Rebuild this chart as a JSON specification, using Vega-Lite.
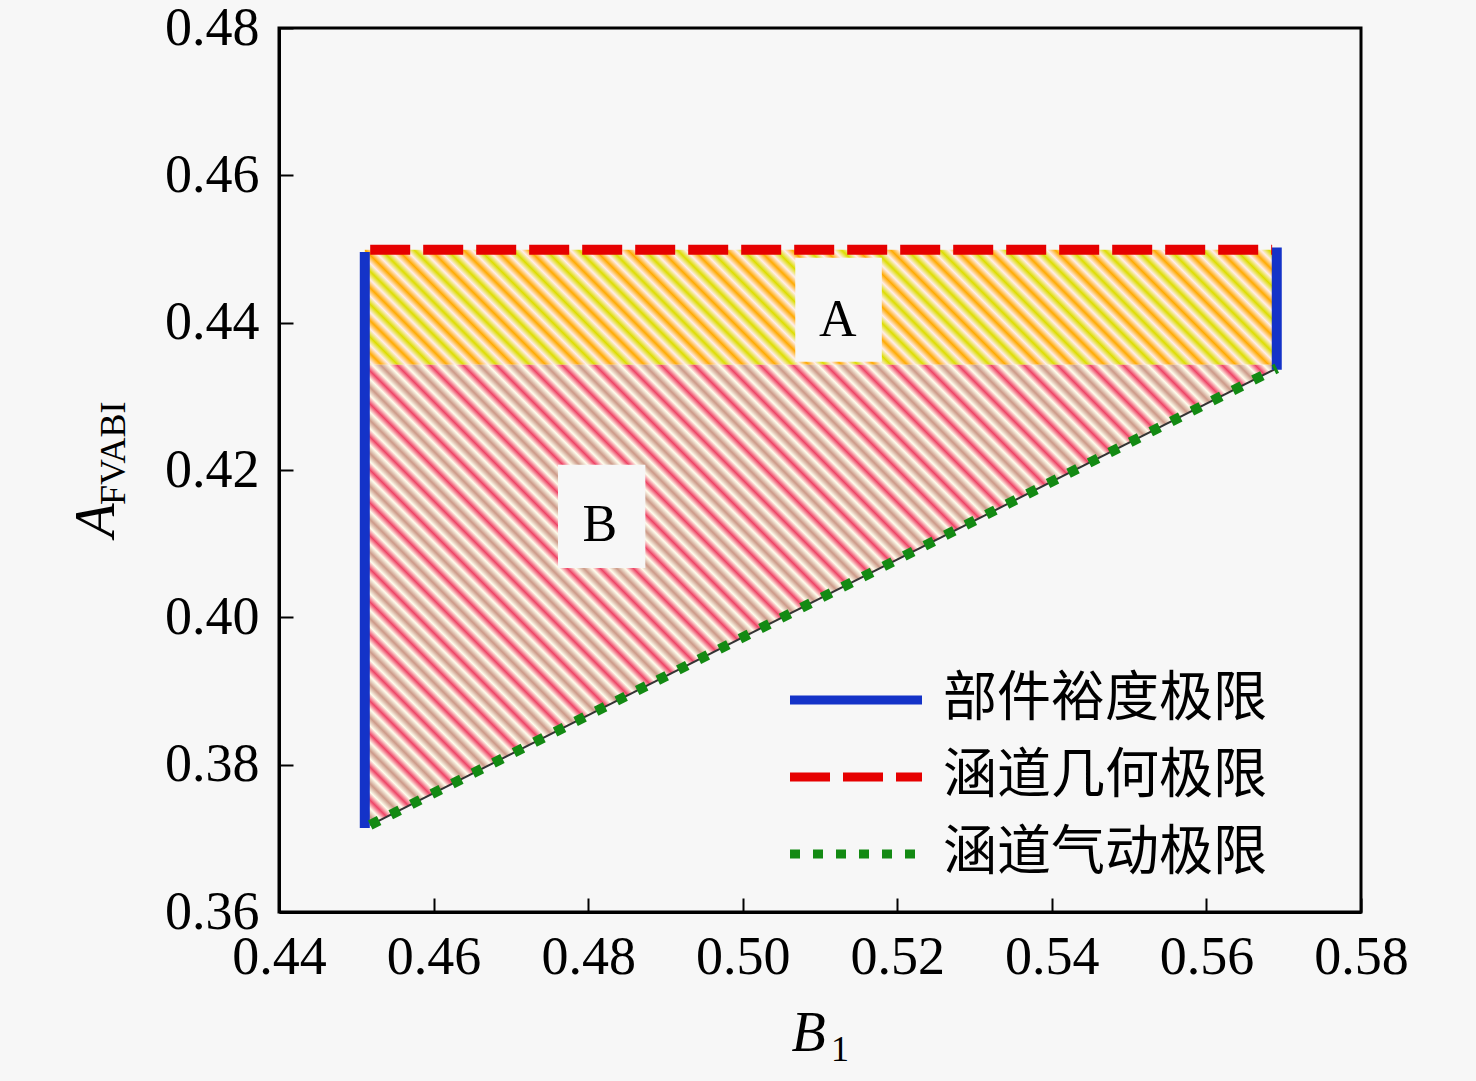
{
  "$schema": "https://vega.github.io/schema/vega-lite/v6.json",
  "description": "Feasible region of A_FVABI vs B1 bounded by component margin, duct geometry and duct aerodynamic limits.",
  "background": "#f7f7f7",
  "autosize": "none",
  "padding": {"left": 279, "top": 28, "right": 115, "bottom": 169},
  "width": 1082,
  "height": 884,
  "config": {
    "view": {"stroke": "#000000", "strokeWidth": 3},
    "axis": {
      "grid": false,
      "domainColor": "#000000",
      "domainWidth": 3,
      "tickColor": "#000000",
      "tickWidth": 2,
      "tickSize": -14,
      "labelFont": "Liberation Serif",
      "labelFontSize": 54,
      "labelColor": "#000000",
      "labelFlush": false,
      "labelOverlap": false,
      "titleFont": "Liberation Serif",
      "titleFontSize": 56,
      "titleFontStyle": "italic",
      "titleFontWeight": "normal",
      "titleColor": "#000000"
    }
  },
  "encoding": {
    "x": {
      "field": "x",
      "type": "quantitative",
      "scale": {"domain": [0.44, 0.58], "nice": false, "zero": false},
      "axis": {
        "title": "B",
        "values": [0.44, 0.46, 0.48, 0.5, 0.52, 0.54, 0.56, 0.58],
        "format": ".2f",
        "labelPadding": 32,
        "titleX": 529,
        "titleY": 138,
        "titleAlign": "center",
        "titleBaseline": "alphabetic"
      }
    },
    "y": {
      "field": "y",
      "type": "quantitative",
      "scale": {"domain": [0.36, 0.48], "nice": false, "zero": false},
      "axis": {
        "title": "A",
        "values": [0.36, 0.38, 0.4, 0.42, 0.44, 0.46, 0.48],
        "format": ".2f",
        "labelPadding": 34,
        "titleAngle": 270,
        "titleX": -166,
        "titleY": 509,
        "titleAlign": "left",
        "titleBaseline": "alphabetic"
      }
    }
  },
  "layer": [
    {
      "data": {"values": [{"region": "A", "x": 0.4511, "x2": 0.5691, "y": 0.4343, "y2": 0.4499}]},
      "mark": {
        "type": "rect",
        "fill": {
          "gradient": "linear",
          "x1": 0, "y1": 1, "x2": 1.1085, "y2": 0.8602,
          "stops": [
            {"offset": 0, "color": "#dd0"}, {"offset": 0.008, "color": "#fee"}, {"offset": 0.016, "color": "#fa0"}, {"offset": 0.024, "color": "#fee"},
            {"offset": 0.032, "color": "#dd0"}, {"offset": 0.04, "color": "#fee"}, {"offset": 0.048, "color": "#fa0"}, {"offset": 0.056, "color": "#fee"},
            {"offset": 0.064, "color": "#dd0"}, {"offset": 0.072, "color": "#fee"}, {"offset": 0.08, "color": "#fa0"}, {"offset": 0.088, "color": "#fee"},
            {"offset": 0.096, "color": "#dd0"}, {"offset": 0.104, "color": "#fee"}, {"offset": 0.112, "color": "#fa0"}, {"offset": 0.12, "color": "#fee"},
            {"offset": 0.128, "color": "#dd0"}, {"offset": 0.136, "color": "#fee"}, {"offset": 0.144, "color": "#fa0"}, {"offset": 0.152, "color": "#fee"},
            {"offset": 0.16, "color": "#dd0"}, {"offset": 0.168, "color": "#fee"}, {"offset": 0.176, "color": "#fa0"}, {"offset": 0.184, "color": "#fee"},
            {"offset": 0.192, "color": "#dd0"}, {"offset": 0.2, "color": "#fee"}, {"offset": 0.208, "color": "#fa0"}, {"offset": 0.216, "color": "#fee"},
            {"offset": 0.224, "color": "#dd0"}, {"offset": 0.232, "color": "#fee"}, {"offset": 0.24, "color": "#fa0"}, {"offset": 0.248, "color": "#fee"},
            {"offset": 0.256, "color": "#dd0"}, {"offset": 0.264, "color": "#fee"}, {"offset": 0.272, "color": "#fa0"}, {"offset": 0.28, "color": "#fee"},
            {"offset": 0.288, "color": "#dd0"}, {"offset": 0.296, "color": "#fee"}, {"offset": 0.304, "color": "#fa0"}, {"offset": 0.312, "color": "#fee"},
            {"offset": 0.32, "color": "#dd0"}, {"offset": 0.328, "color": "#fee"}, {"offset": 0.336, "color": "#fa0"}, {"offset": 0.344, "color": "#fee"},
            {"offset": 0.352, "color": "#dd0"}, {"offset": 0.36, "color": "#fee"}, {"offset": 0.368, "color": "#fa0"}, {"offset": 0.376, "color": "#fee"},
            {"offset": 0.384, "color": "#dd0"}, {"offset": 0.392, "color": "#fee"}, {"offset": 0.4, "color": "#fa0"}, {"offset": 0.408, "color": "#fee"},
            {"offset": 0.416, "color": "#dd0"}, {"offset": 0.424, "color": "#fee"}, {"offset": 0.432, "color": "#fa0"}, {"offset": 0.44, "color": "#fee"},
            {"offset": 0.448, "color": "#dd0"}, {"offset": 0.456, "color": "#fee"}, {"offset": 0.464, "color": "#fa0"}, {"offset": 0.472, "color": "#fee"},
            {"offset": 0.48, "color": "#dd0"}, {"offset": 0.488, "color": "#fee"}, {"offset": 0.496, "color": "#fa0"}, {"offset": 0.504, "color": "#fee"},
            {"offset": 0.512, "color": "#dd0"}, {"offset": 0.52, "color": "#fee"}, {"offset": 0.528, "color": "#fa0"}, {"offset": 0.536, "color": "#fee"},
            {"offset": 0.544, "color": "#dd0"}, {"offset": 0.552, "color": "#fee"}, {"offset": 0.56, "color": "#fa0"}, {"offset": 0.568, "color": "#fee"},
            {"offset": 0.576, "color": "#dd0"}, {"offset": 0.584, "color": "#fee"}, {"offset": 0.592, "color": "#fa0"}, {"offset": 0.6, "color": "#fee"},
            {"offset": 0.608, "color": "#dd0"}, {"offset": 0.616, "color": "#fee"}, {"offset": 0.624, "color": "#fa0"}, {"offset": 0.632, "color": "#fee"},
            {"offset": 0.64, "color": "#dd0"}, {"offset": 0.648, "color": "#fee"}, {"offset": 0.656, "color": "#fa0"}, {"offset": 0.664, "color": "#fee"},
            {"offset": 0.672, "color": "#dd0"}, {"offset": 0.68, "color": "#fee"}, {"offset": 0.688, "color": "#fa0"}, {"offset": 0.696, "color": "#fee"},
            {"offset": 0.704, "color": "#dd0"}, {"offset": 0.712, "color": "#fee"}, {"offset": 0.72, "color": "#fa0"}, {"offset": 0.728, "color": "#fee"},
            {"offset": 0.736, "color": "#dd0"}, {"offset": 0.744, "color": "#fee"}, {"offset": 0.752, "color": "#fa0"}, {"offset": 0.76, "color": "#fee"},
            {"offset": 0.768, "color": "#dd0"}, {"offset": 0.776, "color": "#fee"}, {"offset": 0.784, "color": "#fa0"}, {"offset": 0.792, "color": "#fee"},
            {"offset": 0.8, "color": "#dd0"}, {"offset": 0.808, "color": "#fee"}, {"offset": 0.816, "color": "#fa0"}, {"offset": 0.824, "color": "#fee"},
            {"offset": 0.832, "color": "#dd0"}, {"offset": 0.84, "color": "#fee"}, {"offset": 0.848, "color": "#fa0"}, {"offset": 0.856, "color": "#fee"},
            {"offset": 0.864, "color": "#dd0"}, {"offset": 0.872, "color": "#fee"}, {"offset": 0.88, "color": "#fa0"}, {"offset": 0.888, "color": "#fee"},
            {"offset": 0.896, "color": "#dd0"}, {"offset": 0.904, "color": "#fee"}, {"offset": 0.912, "color": "#fa0"}, {"offset": 0.92, "color": "#fee"},
            {"offset": 0.928, "color": "#dd0"}, {"offset": 0.936, "color": "#fee"}, {"offset": 0.944, "color": "#fa0"}, {"offset": 0.952, "color": "#fee"},
            {"offset": 0.96, "color": "#dd0"}, {"offset": 0.968, "color": "#fee"}, {"offset": 0.976, "color": "#fa0"}, {"offset": 0.984, "color": "#fee"},
            {"offset": 0.992, "color": "#dd0"}, {"offset": 1, "color": "#fee"}
          ]
        }
      },
      "encoding": {
        "x2": {"field": "x2"},
        "y2": {"field": "y2"}
      }
    },
    {
      "data": {"values": [
        {"region": "B", "x": 0.4511, "y": 0.3714, "y2": 0.4343},
        {"region": "B", "x": 0.5691, "y": 0.4338, "y2": 0.4343}
      ]},
      "mark": {
        "type": "area",
        "color": {
          "gradient": "linear",
          "x1": 0, "y1": 1, "x2": 1.1987, "y2": 0.3914,
          "stops": [
            {"offset": 0, "color": "#e46"}, {"offset": 0.006, "color": "#ffe"}, {"offset": 0.012, "color": "#c98"}, {"offset": 0.018, "color": "#ffe"},
            {"offset": 0.024, "color": "#e46"}, {"offset": 0.03, "color": "#ffe"}, {"offset": 0.036, "color": "#c98"}, {"offset": 0.042, "color": "#ffe"},
            {"offset": 0.048, "color": "#e46"}, {"offset": 0.054, "color": "#ffe"}, {"offset": 0.06, "color": "#c98"}, {"offset": 0.066, "color": "#ffe"},
            {"offset": 0.072, "color": "#e46"}, {"offset": 0.078, "color": "#ffe"}, {"offset": 0.084, "color": "#c98"}, {"offset": 0.09, "color": "#ffe"},
            {"offset": 0.096, "color": "#e46"}, {"offset": 0.102, "color": "#ffe"}, {"offset": 0.108, "color": "#c98"}, {"offset": 0.114, "color": "#ffe"},
            {"offset": 0.12, "color": "#e46"}, {"offset": 0.126, "color": "#ffe"}, {"offset": 0.132, "color": "#c98"}, {"offset": 0.138, "color": "#ffe"},
            {"offset": 0.144, "color": "#e46"}, {"offset": 0.15, "color": "#ffe"}, {"offset": 0.156, "color": "#c98"}, {"offset": 0.162, "color": "#ffe"},
            {"offset": 0.168, "color": "#e46"}, {"offset": 0.174, "color": "#ffe"}, {"offset": 0.18, "color": "#c98"}, {"offset": 0.186, "color": "#ffe"},
            {"offset": 0.192, "color": "#e46"}, {"offset": 0.198, "color": "#ffe"}, {"offset": 0.204, "color": "#c98"}, {"offset": 0.21, "color": "#ffe"},
            {"offset": 0.216, "color": "#e46"}, {"offset": 0.222, "color": "#ffe"}, {"offset": 0.228, "color": "#c98"}, {"offset": 0.234, "color": "#ffe"},
            {"offset": 0.24, "color": "#e46"}, {"offset": 0.246, "color": "#ffe"}, {"offset": 0.252, "color": "#c98"}, {"offset": 0.258, "color": "#ffe"},
            {"offset": 0.264, "color": "#e46"}, {"offset": 0.27, "color": "#ffe"}, {"offset": 0.276, "color": "#c98"}, {"offset": 0.282, "color": "#ffe"},
            {"offset": 0.288, "color": "#e46"}, {"offset": 0.294, "color": "#ffe"}, {"offset": 0.3, "color": "#c98"}, {"offset": 0.306, "color": "#ffe"},
            {"offset": 0.312, "color": "#e46"}, {"offset": 0.318, "color": "#ffe"}, {"offset": 0.324, "color": "#c98"}, {"offset": 0.33, "color": "#ffe"},
            {"offset": 0.336, "color": "#e46"}, {"offset": 0.342, "color": "#ffe"}, {"offset": 0.348, "color": "#c98"}, {"offset": 0.354, "color": "#ffe"},
            {"offset": 0.36, "color": "#e46"}, {"offset": 0.366, "color": "#ffe"}, {"offset": 0.372, "color": "#c98"}, {"offset": 0.378, "color": "#ffe"},
            {"offset": 0.384, "color": "#e46"}, {"offset": 0.39, "color": "#ffe"}, {"offset": 0.396, "color": "#c98"}, {"offset": 0.402, "color": "#ffe"},
            {"offset": 0.408, "color": "#e46"}, {"offset": 0.414, "color": "#ffe"}, {"offset": 0.42, "color": "#c98"}, {"offset": 0.426, "color": "#ffe"},
            {"offset": 0.432, "color": "#e46"}, {"offset": 0.438, "color": "#ffe"}, {"offset": 0.444, "color": "#c98"}, {"offset": 0.45, "color": "#ffe"},
            {"offset": 0.456, "color": "#e46"}, {"offset": 0.462, "color": "#ffe"}, {"offset": 0.468, "color": "#c98"}, {"offset": 0.474, "color": "#ffe"},
            {"offset": 0.48, "color": "#e46"}, {"offset": 0.486, "color": "#ffe"}, {"offset": 0.492, "color": "#c98"}, {"offset": 0.498, "color": "#ffe"},
            {"offset": 0.504, "color": "#e46"}, {"offset": 0.51, "color": "#ffe"}, {"offset": 0.516, "color": "#c98"}, {"offset": 0.522, "color": "#ffe"},
            {"offset": 0.528, "color": "#e46"}, {"offset": 0.534, "color": "#ffe"}, {"offset": 0.54, "color": "#c98"}, {"offset": 0.546, "color": "#ffe"},
            {"offset": 0.552, "color": "#e46"}, {"offset": 0.558, "color": "#ffe"}, {"offset": 0.564, "color": "#c98"}, {"offset": 0.57, "color": "#ffe"},
            {"offset": 0.576, "color": "#e46"}, {"offset": 0.582, "color": "#ffe"}, {"offset": 0.588, "color": "#c98"}, {"offset": 0.594, "color": "#ffe"},
            {"offset": 0.6, "color": "#e46"}, {"offset": 0.606, "color": "#ffe"}, {"offset": 0.612, "color": "#c98"}, {"offset": 0.618, "color": "#ffe"},
            {"offset": 0.624, "color": "#e46"}, {"offset": 0.63, "color": "#ffe"}, {"offset": 0.636, "color": "#c98"}, {"offset": 0.642, "color": "#ffe"},
            {"offset": 0.648, "color": "#e46"}, {"offset": 0.654, "color": "#ffe"}, {"offset": 0.66, "color": "#c98"}, {"offset": 0.666, "color": "#ffe"},
            {"offset": 0.672, "color": "#e46"}, {"offset": 0.678, "color": "#ffe"}, {"offset": 0.684, "color": "#c98"}, {"offset": 0.69, "color": "#ffe"},
            {"offset": 0.696, "color": "#e46"}, {"offset": 0.702, "color": "#ffe"}, {"offset": 0.708, "color": "#c98"}, {"offset": 0.714, "color": "#ffe"},
            {"offset": 0.72, "color": "#e46"}, {"offset": 0.726, "color": "#ffe"}, {"offset": 0.732, "color": "#c98"}, {"offset": 0.738, "color": "#ffe"},
            {"offset": 0.744, "color": "#e46"}, {"offset": 0.75, "color": "#ffe"}, {"offset": 0.756, "color": "#c98"}, {"offset": 0.762, "color": "#ffe"},
            {"offset": 0.768, "color": "#e46"}, {"offset": 0.774, "color": "#ffe"}, {"offset": 0.78, "color": "#c98"}, {"offset": 0.786, "color": "#ffe"},
            {"offset": 0.792, "color": "#e46"}, {"offset": 0.798, "color": "#ffe"}, {"offset": 0.804, "color": "#c98"}, {"offset": 0.81, "color": "#ffe"},
            {"offset": 0.816, "color": "#e46"}, {"offset": 0.822, "color": "#ffe"}, {"offset": 0.828, "color": "#c98"}, {"offset": 0.834, "color": "#ffe"},
            {"offset": 0.84, "color": "#e46"}, {"offset": 0.846, "color": "#ffe"}, {"offset": 0.852, "color": "#c98"}, {"offset": 0.858, "color": "#ffe"},
            {"offset": 0.864, "color": "#e46"}, {"offset": 0.87, "color": "#ffe"}, {"offset": 0.876, "color": "#c98"}, {"offset": 0.882, "color": "#ffe"},
            {"offset": 0.888, "color": "#e46"}, {"offset": 0.894, "color": "#ffe"}, {"offset": 0.9, "color": "#c98"}, {"offset": 0.906, "color": "#ffe"},
            {"offset": 0.912, "color": "#e46"}, {"offset": 0.918, "color": "#ffe"}, {"offset": 0.924, "color": "#c98"}, {"offset": 0.93, "color": "#ffe"},
            {"offset": 0.936, "color": "#e46"}, {"offset": 0.942, "color": "#ffe"}, {"offset": 0.948, "color": "#c98"}, {"offset": 0.954, "color": "#ffe"},
            {"offset": 0.96, "color": "#e46"}, {"offset": 0.966, "color": "#ffe"}, {"offset": 0.972, "color": "#c98"}, {"offset": 0.978, "color": "#ffe"},
            {"offset": 0.984, "color": "#e46"}, {"offset": 0.99, "color": "#ffe"}, {"offset": 0.996, "color": "#c98"}, {"offset": 1, "color": "#ffe"}
          ]
        }
      },
      "encoding": {
        "y2": {"field": "y2"}
      }
    },
    {
      "data": {"values": [
        {"label": "A", "x": 0.5068, "x2": 0.518, "y": 0.4347, "y2": 0.4488},
        {"label": "B", "x": 0.4761, "x2": 0.4874, "y": 0.4067, "y2": 0.4207}
      ]},
      "mark": {"type": "rect", "fill": "#f7f7f7"},
      "encoding": {
        "x2": {"field": "x2"},
        "y2": {"field": "y2"}
      }
    },
    {
      "data": {"values": [
        {"label": "A", "x": 0.5123, "y": 0.4404},
        {"label": "B", "x": 0.4815, "y": 0.4125}
      ]},
      "mark": {"type": "text", "font": "Liberation Serif", "fontSize": 52, "color": "#000000", "baseline": "middle", "align": "center"},
      "encoding": {
        "text": {"field": "label"}
      }
    },
    {
      "data": {"values": [
        {"x": 0.4518, "y": 0.3718},
        {"x": 0.5691, "y": 0.4338}
      ]},
      "mark": {"type": "line", "color": "#333333", "strokeWidth": 2},
      "encoding": {}
    },
    {
      "data": {"values": [
        {"series": "部件裕度极限", "seg": "L", "x": 0.4511, "y": 0.3714},
        {"series": "部件裕度极限", "seg": "L", "x": 0.4511, "y": 0.4496},
        {"series": "部件裕度极限", "seg": "R", "x": 0.5691, "y": 0.4336},
        {"series": "部件裕度极限", "seg": "R", "x": 0.5691, "y": 0.4502},
        {"series": "涵道几何极限", "seg": "T", "x": 0.4518, "y": 0.4499},
        {"series": "涵道几何极限", "seg": "T", "x": 0.5685, "y": 0.4499},
        {"series": "涵道气动极限", "seg": "D", "x": 0.4518, "y": 0.3718},
        {"series": "涵道气动极限", "seg": "D", "x": 0.5691, "y": 0.4338}
      ]},
      "mark": {"type": "line", "strokeWidth": 10, "strokeCap": "butt"},
      "encoding": {
        "detail": {"field": "seg"},
        "color": {
          "field": "series",
          "type": "nominal",
          "scale": {
            "domain": ["部件裕度极限", "涵道几何极限", "涵道气动极限"],
            "range": ["#1433c8", "#e60000", "#138a13"]
          },
          "legend": {
            "title": null,
            "orient": "none",
            "legendX": 550,
            "legendY": 645,
            "padding": 0,
            "symbolType": "M-3,0H3",
            "symbolSize": 1936,
            "symbolStrokeWidth": 9,
            "symbolOffset": 0,
            "labelOffset": 60,
            "labelFont": "Noto Sans CJK SC",
            "labelFontSize": 54,
            "labelColor": "#000000",
            "labelLimit": 600,
            "rowPadding": 23
          }
        },
        "strokeDash": {
          "field": "series",
          "type": "nominal",
          "scale": {
            "domain": ["部件裕度极限", "涵道几何极限", "涵道气动极限"],
            "range": [[1, 0], [40, 13], [10, 13]]
          },
          "legend": null
        }
      }
    },
    {
      "data": {"values": [{"sub": "FVABI", "x": 0.42007, "y": 0.41525}]},
      "mark": {"type": "text", "font": "Liberation Serif", "fontSize": 36, "color": "#000000", "angle": 270, "align": "left", "baseline": "alphabetic", "clip": false},
      "encoding": {
        "text": {"field": "sub"}
      }
    },
    {
      "data": {"values": [{"sub": "1", "x": 0.51142, "y": 0.33977}]},
      "mark": {"type": "text", "font": "Liberation Serif", "fontSize": 36, "color": "#000000", "align": "left", "baseline": "alphabetic", "clip": false},
      "encoding": {
        "text": {"field": "sub"}
      }
    }
  ]
}
